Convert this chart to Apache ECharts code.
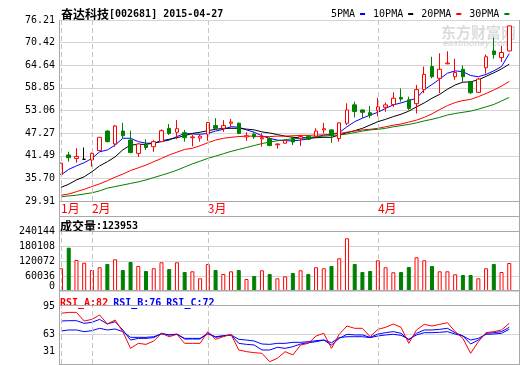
<!DOCTYPE html>
<html><head><meta charset="utf-8">
<script src="https://cdn.jsdelivr.net/npm/echarts/dist/echarts.min.js"></script>
<style>html,body{margin:0;padding:0;background:#fff}#c{width:520px;height:365px}</style>
</head><body><div id="c"></div>
<script>
const dates = ['2015-01-27','2015-01-28','2015-01-29','2015-01-30','2015-02-02','2015-02-03','2015-02-04','2015-02-05','2015-02-06','2015-02-09','2015-02-10','2015-02-11','2015-02-12','2015-02-13','2015-02-16','2015-02-17','2015-02-25','2015-02-26','2015-02-27','2015-03-02','2015-03-03','2015-03-04','2015-03-05','2015-03-06','2015-03-09','2015-03-10','2015-03-11','2015-03-12','2015-03-13','2015-03-16','2015-03-17','2015-03-18','2015-03-19','2015-03-20','2015-03-23','2015-03-24','2015-03-25','2015-03-26','2015-03-27','2015-03-30','2015-03-31','2015-04-01','2015-04-02','2015-04-03','2015-04-07','2015-04-08','2015-04-09','2015-04-10','2015-04-13','2015-04-14','2015-04-15','2015-04-16','2015-04-17','2015-04-20','2015-04-21','2015-04-22','2015-04-23','2015-04-24','2015-04-27'];
const openP = [36.74,41.7,40.8,40.57,40.4,42.8,47.8,44.5,47.8,45.5, 42.1,44.2,43.8,45.1,48.5,47.5,47.4,46.1,46.0,47.0, 49.2,48.5,49.8,49.8,46.3,47.0,45.8,45.9,44.3,44.7, 45.9,45.95,46.5,46.5,48.1,48.1,45.9,49.8,54.5,53.2, 52.5,53.0,53.9,54.6,56.4,55.8,54.8,58.4,64.3,61.3, 65.0,61.7,63.6,60.4,57.7,64.0,68.3,66.6,68.3];
const closeP = [39.6,41.0,41.3,40.57,42.1,46.2,45.1,49.1,46.6,42.3, 44.5,43.6,45.1,47.9,47.2,48.4,46.1,46.3,46.5,50.0, 48.5,49.2,50.1,47.2,46.6,46.3,46.1,44.1,44.5,45.4, 45.0,46.4,45.7,47.8,48.4,46.7,49.9,53.2,52.8,52.6, 51.8,54.0,54.5,56.2,56.0,53.6,58.4,62.3,61.7,63.6, 65.2,62.8,61.7,57.6,61.1,66.8,67.4,67.9,74.7];
const lowP = [36.6,40.0,39.7,40.4,38.7,42.7,44.9,43.8,45.95,42.1, 41.2,42.95,42.5,45.0,46.8,45.7,45.1,43.9,45.1,45.3, 48.4,47.6,48.9,47.0,45.3,45.8,43.8,43.9,43.3,44.6, 44.2,44.0,45.5,45.95,47.2,44.8,45.1,49.3,51.3,51.2, 51.1,51.6,52.75,54.0,55.3,53.2,52.3,57.5,61.3,57.5, 64.9,60.9,60.4,57.3,57.6,62.5,66.3,65.5,68.2];
const highP = [39.7,42.5,43.4,43.6,42.3,46.3,48.0,49.35,49.9,47.9, 44.7,45.7,45.5,48.25,49.6,50.6,48.1,46.8,46.8,50.1, 51.1,50.6,50.9,50.0,47.5,47.5,47.2,46.2,44.6,45.6, 46.4,46.8,46.8,48.5,49.9,48.2,50.0,54.9,55.3,53.3, 54.2,56.3,55.1,57.7,58.7,56.6,59.6,64.3,66.8,67.7, 68.2,66.3,64.6,60.5,61.4,67.4,71.7,69.6,74.8];
const ma5 = [36.56,38.0,38.9,39.7,40.8,42.5,42.96,44.2,45.95,45.95, 45.1,44.7,44.7,45.1,45.5,46.4,47.2,47.05,46.97,47.2, 47.8,48.25,48.9,48.8,48.1,47.5,46.6,45.9,45.5,45.3, 45.3,45.5,45.8,46.2,46.8,47.05,47.4,48.9,50.2,51.1, 51.9,52.6,53.6,54.5,55.0,55.6,56.2,58.4,59.7,61.1, 62.6,63.2,63.0,62.0,61.7,62.3,63.2,64.3,67.6];
const ma10 = [33.4,34.2,35.3,36.1,37.4,38.9,39.96,41.2,43.0,44.2, 44.4,44.4,44.7,45.3,45.7,46.1,46.6,47.2,47.5,47.9, 48.25,48.5,48.5,48.5,48.3,48.1,47.6,47.3,46.9,46.5, 46.2,46.1,46.1,46.1,46.2,46.2,46.8,47.4,47.9,48.5, 49.35,50.2,50.8,51.5,52.1,52.9,54.0,55.0,56.2,57.2, 58.5,59.6,60.3,60.4,60.9,61.8,62.7,63.7,64.9];
const ma20 = [31.4,31.7,32.3,32.9,33.6,34.3,35.1,36.0,36.8,37.7, 38.4,39.1,39.96,40.8,41.7,42.4,43.1,43.4,44.05,44.8, 45.5,45.95,46.2,46.4,46.5,46.5,46.4,46.4,46.5,46.5, 46.6,46.7,46.7,46.8,46.8,47.0,47.2,47.5,47.8,48.1, 48.25,48.5,48.9,49.3,49.6,50.1,50.6,51.3,52.2,53.3, 54.3,55.1,55.6,55.9,56.6,57.4,58.3,59.3,60.5];
const ma30 = [31.0,31.2,31.4,31.7,32.0,32.5,33.2,33.6,34.0,34.4, 34.8,35.3,35.9,36.5,37.1,37.8,38.6,39.4,40.1,40.8, 41.4,42.0,42.6,43.1,43.6,44.1,44.6,45.0,45.3,45.6, 45.8,45.95,46.1,46.4,46.5,46.7,46.8,47.05,47.4,47.8, 48.1,48.25,48.5,48.9,49.2,49.5,49.9,50.4,50.8,51.3, 51.9,52.3,52.6,52.9,53.4,54.0,54.6,55.5,56.4];
const volume = [90900,173300,124100,113300,84000,94900,108100,126900,84000,116100, 100100,80000,90900,114900,88000,114900,76000,78800,50800,108100, 84000,68000,78800,84000,48000,60000,82800,68000,50800,58800, 72000,82800,68000,94900,90900,100100,130900,210900,108100,76000, 80000,122900,94900,74800,76000,96100,134900,122900,100100,78800, 78800,66800,64000,64000,50800,90900,108100,76000,112100];
const rsiA = [86.0,87.0,87.0,77.6,79.4,84.2,74.4,78.7,66.1,48.0, 53.4,52.3,55.9,64.3,60.6,63.2,53.4,53.4,53.4,66.1, 57.8,60.6,63.2,46.2,44.4,43.3,42.6,33.5,37.2,44.4, 40.8,51.6,53.4,61.4,64.3,48.0,63.2,72.2,69.7,69.7, 60.6,68.6,70.8,74.4,70.8,53.4,67.9,74.0,72.2,74.0, 75.8,66.1,58.8,42.6,55.2,65.0,66.1,67.9,75.1];
const rsiB = [77.6,78.0,78.0,75.1,76.2,79.4,74.4,76.9,67.9,57.0, 58.8,58.8,59.6,64.3,62.5,63.5,58.1,58.1,58.1,65.0, 59.9,61.4,62.5,53.4,52.3,51.6,46.2,46.2,49.1,48.0, 49.8,52.7,54.1,55.2,57.0,51.6,58.8,63.2,62.5,62.5, 59.9,63.5,65.0,66.1,64.3,57.0,64.3,67.9,67.9,68.6, 69.7,65.0,61.4,52.7,57.0,64.3,65.0,66.1,70.8];
const rsiC = [66.8,67.9,67.9,66.1,67.2,69.7,67.9,69.0,66.1,59.9, 59.9,59.9,60.6,63.5,62.5,63.2,58.8,58.8,58.8,63.5, 60.6,61.7,62.5,57.8,57.0,55.9,52.7,52.3,53.4,53.4, 54.5,54.5,55.2,56.3,57.0,54.1,59.6,60.6,60.6,60.6, 59.6,61.4,62.5,63.2,62.1,57.8,62.5,65.0,65.0,65.4, 66.1,63.5,61.4,57.0,58.8,63.2,63.5,64.3,68.6];
const priceTicks = ['29.91','35.70','41.49','47.27','53.06','58.85','64.64','70.42','76.21'];
const volTicks = [0,60036,120072,180108,240144];
const rsiTicks = ['31','63','95'];
const stockName = '奋达科技', stockCode = '[002681] 2015-04-27';
const volLabel = '成交量', volNow = '123953';
const rsiNow = {A:82, B:76, C:72};

const RED='#ff0000', GREEN='#008000', BLUE='#0000ff', BLACK='#000000';
const GRIDC='#d4d4d4', FRAMEC='#a8a8a8', DASHC='#c4c4c4';
const MONO='"DejaVu Sans Mono"', CJK='"Noto Sans CJK SC"';
const isUp = dates.map((d,i)=> closeP[i] >= openP[i]);
const monthStarts = dates.filter((d,i)=> i===0 || d.slice(5,7)!==dates[i-1].slice(5,7));
const monthMark = {silent:true, symbol:'none', label:{show:false}, animation:false,
  lineStyle:{color:DASHC, type:[5,3], width:1}, data: monthStarts.map(d=>({xAxis:d}))};

const L0=59, W0=460, LD=57.13, WD=456.0;
const panels=[{top:20,h:181},{top:231,h:60},{top:305,h:59}];
const grids=[];
panels.forEach(p=>{
  grids.push({left:L0, top:p.top, width:W0, height:p.h, outerBoundsMode:'none', containLabel:false});
  grids.push({left:LD, top:p.top, width:WD, height:p.h, outerBoundsMode:'none', containLabel:false});
});
const xAxes=[], yAxes=[];
const hiddenCat = (gi)=>({type:'category', gridIndex:gi, data:dates, boundaryGap:true, axisLine:{show:false}, axisTick:{show:false}, axisLabel:{show:false}, splitLine:{show:false}});
const hiddenVal = (gi)=>({type:'value', gridIndex:gi, min:0, max:1, show:false});
xAxes.push(hiddenVal(0));
xAxes.push(Object.assign(hiddenCat(1), {axisLabel:{show:true, margin:1, align:'left', color:RED, fontFamily:CJK, fontSize:12, lineHeight:13,
  interval:(i)=> i===0 || dates[i].slice(5,7)!==dates[i-1].slice(5,7),
  formatter:(v)=> (+v.slice(5,7))+'月'}}));
xAxes.push(hiddenVal(2)); xAxes.push(hiddenCat(3)); xAxes.push(hiddenVal(4)); xAxes.push(hiddenCat(5));

const lblBase = {margin:4, color:'#000', fontFamily:MONO, fontSize:10};
yAxes.push({type:'value', gridIndex:0, min:0, max:priceTicks.length-1, interval:1, axisLine:{show:false}, axisTick:{show:false},
  splitLine:{show:true, lineStyle:{color:GRIDC, width:1}}, axisLabel:Object.assign({}, lblBase, {formatter:(v)=>priceTicks[v]})});
yAxes.push({type:'value', gridIndex:1, min:29.91, max:76.21, show:false, splitLine:{show:false}});
yAxes.push({type:'value', gridIndex:2, min:volTicks[0], max:volTicks[volTicks.length-1], interval:volTicks[1]-volTicks[0], axisLine:{show:false}, axisTick:{show:false},
  splitLine:{show:true, lineStyle:{color:GRIDC, width:1}},
  axisLabel:Object.assign({}, lblBase, {formatter:(v)=> v===0 ? '{z|0}' : String(v), rich:{z:{fontFamily:MONO, fontSize:10, color:'#000', padding:[0,0,9,0]}}})});
yAxes.push({type:'value', gridIndex:3, min:volTicks[0], max:volTicks[volTicks.length-1], show:false, splitLine:{show:false}});
yAxes.push({type:'value', gridIndex:4, min:0, max:rsiTicks.length-1, interval:1, axisLine:{show:false}, axisTick:{show:false},
  splitLine:{show:true, lineStyle:{color:GRIDC, width:1}},
  axisLabel:Object.assign({}, lblBase, {formatter:(v)=> v===0 ? '{lo|'+rsiTicks[0]+'}' : (v===rsiTicks.length-1 ? '{hi|'+rsiTicks[v]+'}' : rsiTicks[v]),
    rich:{lo:{fontFamily:MONO, fontSize:10, color:'#000', padding:[0,0,25,0]}, hi:{fontFamily:MONO, fontSize:10, color:'#000', padding:[3,0,0,0]}}})});
yAxes.push({type:'value', gridIndex:5, min:31, max:95, show:false, splitLine:{show:false}});

const maLine = (name, data, color)=>({name, type:'line', xAxisIndex:1, yAxisIndex:1, data, color, symbol:'none', showSymbol:false,
  lineStyle:{color, width:1}, z:2, silent:true, animation:false});
const rsiLine = (name, data, color)=>({name, type:'line', xAxisIndex:5, yAxisIndex:5, data, color, symbol:'none', showSymbol:false,
  lineStyle:{color, width:1}, z:2, silent:true, animation:false});

const series = [
  maLine('5PMA', ma5, BLUE), maLine('10PMA', ma10, BLACK), maLine('20PMA', ma20, RED), maLine('30PMA', ma30, GREEN),
  {name:'K', type:'candlestick', xAxisIndex:1, yAxisIndex:1, barWidth:4, z:3, silent:true, animation:false,
   data: dates.map((d,i)=>[openP[i], closeP[i], lowP[i], highP[i]]),
   itemStyle:{color:'#ffffff', color0:GREEN, borderColor:RED, borderColor0:GREEN, borderColorDoji:BLACK, borderWidth:1},
   markLine: monthMark},
  {name:'VOL', type:'bar', xAxisIndex:3, yAxisIndex:3, barWidth:4, silent:true, animation:false,
   data: volume.map((v,i)=>({value:v, itemStyle: isUp[i] ? {color:'#ffffff', borderColor:RED, borderWidth:1} : {color:GREEN, borderColor:GREEN, borderWidth:1}})),
   markLine: monthMark},
  rsiLine('RSI_C', rsiC, BLUE), rsiLine('RSI_B', rsiB, BLUE),
  Object.assign(rsiLine('RSI_A', rsiA, RED), {markLine: monthMark})
];

const hline = (y)=>({type:'line', z:50, silent:true, shape:{x1:59, y1:y, x2:520, y2:y}, style:{stroke:FRAMEC, lineWidth:1}});
const vline = (x)=>({type:'line', z:50, silent:true, shape:{x1:x, y1:20, x2:x, y2:365}, style:{stroke:FRAMEC, lineWidth:1}});

const option = {
  animation:false,
  backgroundColor:'#ffffff',
  title:[
    {left:61, top:7, padding:0, text:'{a|'+stockName+'}{b|'+stockCode+'}',
     textStyle:{rich:{a:{fontFamily:CJK, fontSize:12, color:'#000', lineHeight:14}, b:{fontFamily:MONO, fontSize:10, color:'#000', lineHeight:14}}}},
    {left:60, top:219, padding:0, text:'{a|'+volLabel+'}{b|:'+volNow+'}',
     textStyle:{rich:{a:{fontFamily:CJK, fontSize:12, color:'#000', lineHeight:14}, b:{fontFamily:MONO, fontSize:10, color:'#000', lineHeight:14}}}},
    {left:60, top:294, padding:0, text:'{r|RSI_A:'+rsiNow.A+'} {g|RSI_B:'+rsiNow.B+'} {g|RSI_C:'+rsiNow.C+'}',
     textStyle:{rich:{r:{fontFamily:MONO, fontSize:10, color:RED, lineHeight:14}, g:{fontFamily:MONO, fontSize:10, color:BLUE, lineHeight:14}}}}
  ],
  legend:{left:331, top:8, padding:0, itemGap:8, itemWidth:5, itemHeight:2, align:'right', icon:'rect', selectedMode:false,
    textStyle:{fontFamily:MONO, fontSize:10, color:'#000', lineHeight:12},
    data:['5PMA','10PMA','20PMA','30PMA']},
  grid: grids,
  xAxis: xAxes,
  yAxis: yAxes,
  series,
  graphic:[
    {type:'text', left:441, top:25, z:0, silent:true, style:{text:'东方财富网', font:'bold 15px "Noto Sans CJK SC"', fill:'#dcdcdc'}},
    {type:'text', left:443, top:39, z:0, silent:true, style:{text:'eastmoney.com', font:'italic bold 9px "Liberation Sans"', fill:'#dcdcdc'}},
    vline(59.5), vline(519.5),
    hline(201.5), hline(216.5), hline(231.5), hline(290.5), hline(305.5), hline(364.5)
  ]
};
const chart = echarts.init(document.getElementById('c'), null, {renderer:'canvas'});
chart.setOption(option);
</script></body></html>
